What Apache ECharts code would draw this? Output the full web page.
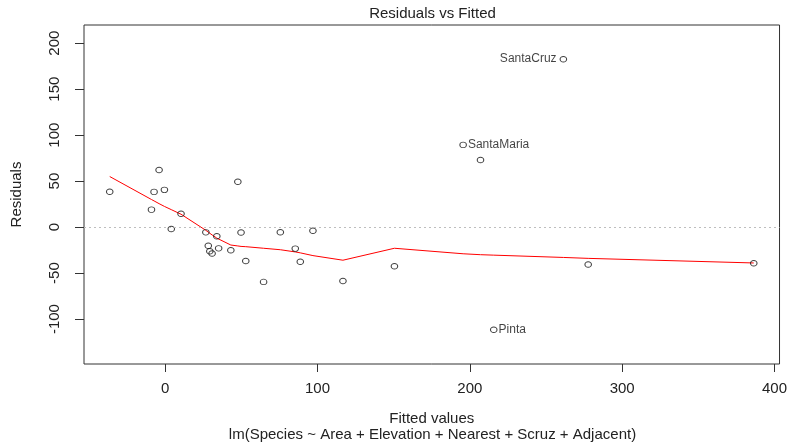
<!DOCTYPE html>
<html>
<head>
<meta charset="utf-8">
<script src="https://cdn.jsdelivr.net/npm/echarts@6/dist/echarts.min.js"></script>
<style>
html,body{margin:0;padding:0;background:#fff;}
#chart{width:790px;height:444px;}
</style>
</head>
<body>
<div id="chart"></div>
<script>
// Islands, fitted values and residuals
const islands = ["Baltra","Bartolome","Caldwell","Champion","Coamano","Daphne.Major","Daphne.Minor","Darwin","Eden","Enderby","Espanola","Fernandina","Gardner1","Gardner2","Genovesa","Isabela","Marchena","Onslow","Pinta","Pinzon","Las.Plazas","Rabida","SanCristobal","SanSalvador","SantaCruz","SantaFe","SantaMaria","Seymour","Tortuga","Wolf"];
const fitted = [116.7,-7.3,29.3,10.4,-36.4,43.1,33.9,-9.0,28.3,30.8,47.7,97.0,-4.0,64.6,-0.5,386.4,88.7,4.0,215.7,150.5,35.1,75.6,207.0,277.7,261.4,85.4,195.6,49.8,52.9,26.7];
const residuals = [-58.7,38.3,-26.3,14.6,38.4,-25.1,-9.9,19.0,-20.3,-28.8,49.3,-4.0,62.0,-59.6,40.5,-39.4,-37.7,-2.0,-111.7,-42.5,-23.1,-5.6,73.0,-40.7,182.6,-23.4,89.4,-5.8,-36.9,-5.7];
const labelledLeft = ["SantaCruz"];
const labelledRight = ["SantaMaria","Pinta"];
// Smoother (red line)
const smoothX = [-36.4,-9.0,-7.3,-4.0,-0.5,4.0,10.4,26.7,28.3,29.3,30.8,33.9,35.1,43.1,47.7,49.8,52.9,64.6,75.6,85.4,88.7,97.0,116.7,150.5,195.6,207.0,215.7,261.4,277.7,386.4];
const smoothY = [55,30,28.5,25.5,22.5,19,14,-3.5,-5.5,-7,-8.5,-12,-13.5,-19.5,-20.5,-21,-21.3,-23,-24.6,-27,-28,-31,-36,-23,-29,-30,-30.5,-33,-34,-39];
const xTicks = [0,100,200,300,400];
const yTicks = [-100,-50,0,50,100,150,200];
const titleText = "Residuals vs Fitted";
const xName = "Fitted values";
const yName = "Residuals";
const subCaption = "lm(Species ~ Area + Elevation + Nearest + Scruz + Adjacent)";

const FONT = "'Liberation Sans', Arial, sans-serif";
const chart = echarts.init(document.getElementById('chart'), null, {renderer:'canvas'});

const pts = islands.map((n,i)=>{
  const d = {name:n, value:[fitted[i], residuals[i]]};
  if (labelledLeft.includes(n)) d.label = {show:true, position:'left', distance:3, formatter:n};
  if (labelledRight.includes(n)) d.label = {show:true, position:'right', distance:1, formatter:n};
  return d;
});
const smooth = smoothX.map((x,i)=>[x, smoothY[i]]);

const option = {
  animation:false,
  backgroundColor:'#fff',
  grid:{left:84, top:25, right:10, bottom:80, show:true, borderColor:'#333', borderWidth:1, backgroundColor:'transparent'},
  xAxis:{
    type:'value', min:-53.29, max:403.31,
    name:xName, nameLocation:'middle', nameGap:47,
    nameTextStyle:{fontFamily:FONT, fontSize:15, color:'#222'},
    axisLine:{show:false, onZero:false},
    splitLine:{show:false},
    axisTick:{show:true, length:8, customValues:xTicks, lineStyle:{color:'#333'}},
    axisLabel:{customValues:xTicks, margin:17, fontFamily:FONT, fontSize:15, color:'#222'}
  },
  yAxis:{
    type:'value', min:-148.87, max:219.77,
    name:yName, nameLocation:'middle', nameGap:60, nameRotate:90,
    nameTextStyle:{fontFamily:FONT, fontSize:15, color:'#222'},
    axisLine:{show:false, onZero:false},
    splitLine:{show:false},
    axisTick:{show:true, length:9, customValues:yTicks, lineStyle:{color:'#333'}},
    axisLabel:{customValues:yTicks, rotate:90, margin:22, fontFamily:FONT, fontSize:15, color:'#222'}
  },
  graphic:[
    {type:'text', x:432.5, y:13.5, style:{text:titleText, font:"15px 'Liberation Sans', Arial, sans-serif", fill:'#222', textAlign:'center', textVerticalAlign:'middle'}},
    {type:'text', x:432.5, y:435, style:{text:subCaption, font:"15px 'Liberation Sans', Arial, sans-serif", fill:'#222', textAlign:'center', textVerticalAlign:'middle'}}
  ],
  series:[
    {
      type:'line', data:smooth, showSymbol:false, symbol:'none', smooth:false,
      lineStyle:{color:'#ff0000', width:1}, z:2, silent:true,
      markLine:{silent:true, symbol:['none','none'], label:{show:false},
        lineStyle:{color:'#bebebe', type:[2,3], width:1},
        data:[{yAxis:0}]}
    },
    {
      type:'scatter', data:pts, symbol:'circle', symbolSize:[6.5,5.5],
      itemStyle:{color:'rgba(255,255,255,0)', borderColor:'#111', borderWidth:1},
      label:{show:false, fontFamily:FONT, fontSize:12, color:'#111'},
      z:3
    }
  ]
};
chart.setOption(option);
</script>
</body>
</html>
